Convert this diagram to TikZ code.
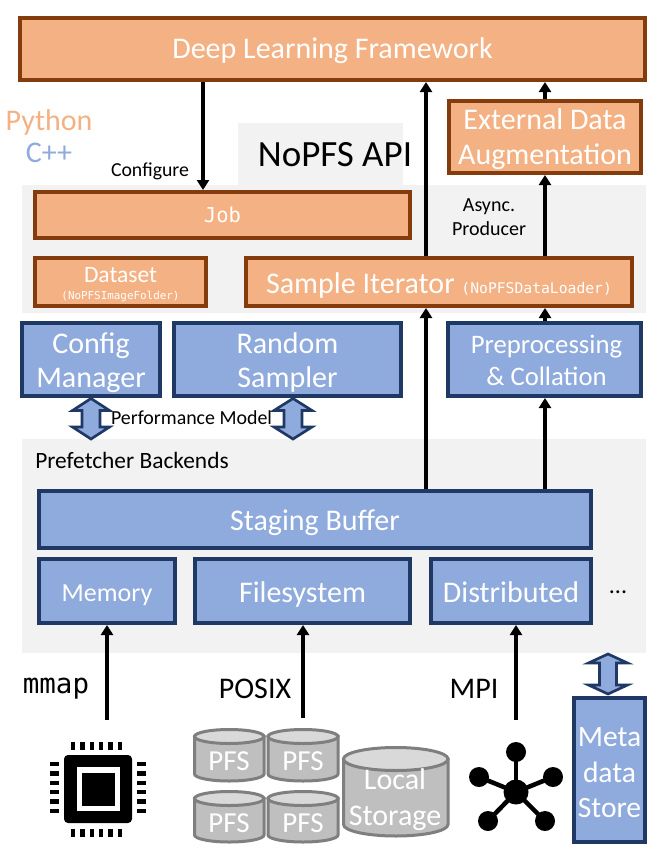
\documentclass[tikz,border=0pt]{standalone}
\usepackage{fontspec}
\setmainfont{Carlito}
\newfontfamily\codefont{DejaVu Sans Mono}
\usetikzlibrary{arrows.meta,calc}
\definecolor{peach}{HTML}{F4B183}
\definecolor{rust}{HTML}{843C0C}
\definecolor{cornflower}{HTML}{8FAADC}
\definecolor{navy}{HTML}{1F3864}
\definecolor{panelgrey}{HTML}{F2F2F2}
\definecolor{cylside}{HTML}{BFBFBF}
\definecolor{cyltop}{HTML}{D9D9D9}
\definecolor{cyledge}{HTML}{7F7F7F}
% size of type and leading, both given in drawing units (0.75pt)
\newcommand{\fs}[2]{\fontsize{\dimexpr #1pt*3/4\relax}{\dimexpr #2pt*3/4\relax}\selectfont}
% invisible struts that lower or raise a box's text by half their argument
\newcommand{\dn}[1]{\rule{0pt}{\dimexpr .7em+#1\relax}}
\newcommand{\up}[1]{\rule[-#1]{0pt}{0pt}}
% a box given by its outer corners: style, name, x1, y1, x2, y2, text
\newcommand{\bx}[7]{\node[#1,minimum width={(#5-#3-4)*0.75pt},minimum height={(#6-#4-4)*0.75pt}] (#2) at ({(#3+#5)/2},{(#4+#6)/2}) {\dn{3pt}#7};}
% a vertical two-headed block arrow: centre x, y1, y2, half width, half shaft, head length
\newcommand{\dblarrow}[6]{\draw[blockarrow] (#1,#2) -- ({#1+#4},{#2+#6}) -- ({#1+#5},{#2+#6}) -- ({#1+#5},{#3-#6}) -- ({#1+#4},{#3-#6}) -- (#1,#3) -- ({#1-#4},{#3-#6}) -- ({#1-#5},{#3-#6}) -- ({#1-#5},{#2+#6}) -- ({#1-#4},{#2+#6}) -- cycle;}
% a storage cylinder: x1, y1, x2, y2, height of the top ellipse
\newcommand{\cyl}[5]{%
  \draw[cyledge,line width=2.25pt,fill=cylside] (#1,{#2+#5/2}) -- (#1,{#4-#5/2}) arc[start angle=180,end angle=0,x radius={(#3-#1)/2},y radius={#5/2}] -- (#3,{#2+#5/2}) -- cycle;
  \draw[cyledge,line width=2.25pt,fill=cyltop] ({(#1+#3)/2},{#2+#5/2}) ellipse[x radius={(#3-#1)/2},y radius={#5/2}];}
\tikzset{
  pic/.style={x=0.75pt,y=-0.75pt},
  base/.style={draw,line width=3pt,inner sep=0pt,align=center,text=white},
  orangebox/.style={base,draw=rust,fill=peach},
  bluebox/.style={base,draw=navy,fill=cornflower},
  panel/.style={fill=panelgrey,draw=none},
  flow/.style={line width=2.7pt,-{Triangle[length=7.5pt,width=9pt]}},
  blockarrow/.style={draw=navy,fill=cornflower,line width=2pt,line join=miter},
  label/.style={inner sep=0pt,align=center},
  cyltext/.style={inner sep=0pt,align=center,text=white},
}
\begin{document}
\begin{tikzpicture}[pic]
\useasboundingbox (0,0) rectangle (664,853);
\fill[white] (0,0) rectangle (664,853);
% grey panels
\fill[panel] (238,123) rectangle (403,185);
\fill[panel] (22,185) rectangle (646,313);
\fill[panel] (22,439) rectangle (646,653);
% Python layer
\bx{orangebox,font={\fs{30}{35}}}{dlf}{18}{16}{647}{82}{Deep Learning Framework}
\bx{orangebox,font={\fs{30}{35}}}{ext}{447}{99}{643}{175}{External Data\\Augmentation}
\bx{orangebox,font={\codefont\fs{20.5}{24}}}{job}{33}{190}{412}{240}{\up{2pt}Job}
\bx{orangebox,font={\fs{23.5}{23}}}{data}{33}{256}{208}{308}{Dataset\\[-4.5pt]{\codefont\fs{10.9}{13}(NoPFSImageFolder)}}
\bx{orangebox,font={\fs{30}{34}}}{iter}{244}{256}{634}{308}{\dn{4.5pt}Sample Iterator {\codefont\fs{14.7}{16}(NoPFSDataLoader)}}
% C++ layer
\bx{bluebox,font={\fs{30}{34}}}{conf}{20}{321}{162}{398}{\dn{4.5pt}Config\\Manager}
\bx{bluebox,font={\fs{30}{34}}}{rand}{172}{321}{403}{398}{\dn{4.5pt}Random\\Sampler}
\bx{bluebox,font={\fs{26.7}{32}}}{prep}{446}{321}{643}{398}{\kern3pt Preprocessing\\\kern3pt\& Collation\up{1.5pt}}
\bx{bluebox,font={\fs{30}{34}}}{stag}{37}{489}{593}{550}{\dn{4.5pt}Staging Buffer}
\bx{bluebox,font={\fs{26}{32}}}{mem}{37}{557}{177}{625}{\dn{4.5pt}Memory}
\bx{bluebox,font={\fs{30}{34}}}{fsys}{193}{557}{412}{625}{\dn{4.5pt}Filesystem}
\bx{bluebox,font={\fs{30}{34}}}{dist}{429}{557}{593}{625}{\up{1.5pt}Distributed}
\bx{bluebox,font={\fs{29.5}{35.5}}}{meta}{572}{696}{647}{844}{Meta\\data\\Store}
% free labels
\node[label,text=peach,font={\fs{30}{34}}] (py) at (49,122) {Python};
\node[label,text=cornflower,font={\fs{30}{34}}] (cpp) at (49,153) {C++};
\node[label,font={\fs{37}{40}}] (api) at (335,155) {NoPFS API};
\node[label,font={\fs{19.8}{24}}] (conflabel) at (150,171) {Configure};
\node[label,font={\fs{20}{24}}] (async) at (489,217) {Async.\\Producer};
\node[label,anchor=west,font={\fs{23.4}{28}}] (backends) at (35,460) {Prefetcher Backends};
\node[label,font={\fs{19.9}{24}}] (perf) at (191.5,418) {Performance Model};
\node[label,font={\fs{24}{24}}] (dots) at (618,592) {...};
\node[label,font={\codefont\fs{27.5}{30}}] (mmap) at (56,689) {mmap};
\node[label,font={\fs{30}{34}}] (posix) at (255,689) {POSIX};
\node[label,font={\fs{30}{34}}] (mpi) at (474,689) {MPI};
% positions of the connectors
\coordinate (xcfg) at (203,0);
\coordinate (xmid) at (426,0);
\coordinate (xaug) at (545,0);
\coordinate (xmem) at (107,720);
\coordinate (xfs) at (303,718);
\coordinate (xmpi) at (516,720);
% connectors
\draw[flow] (dlf.south -| xcfg) -- (job.north -| xcfg);
\draw[flow] (iter.north -| xmid) -- (dlf.south -| xmid);
\draw[flow] (stag.north -| xmid) -- (iter.south -| xmid);
\draw[flow] (ext.north -| xaug) -- (dlf.south -| xaug);
\draw[flow] (iter.north -| xaug) -- (ext.south -| xaug);
\draw[flow] (prep.north -| xaug) -- (iter.south -| xaug);
\draw[flow] (stag.north -| xaug) -- (prep.south -| xaug);
\draw[flow] (xmem) -- (mem.south -| xmem);
\draw[flow] (xfs) -- (fsys.south -| xfs);
\draw[flow] (xmpi) -- (dist.south -| xmpi);
% block arrows
\dblarrow{91}{398.5}{439}{18.5}{9}{12}
\dblarrow{293}{398.5}{439}{19}{9}{12}
\dblarrow{608}{654}{694}{19.5}{8.5}{9}
% processor
\fill[black,rounded corners=3pt] (64,755) rectangle (132,823);
\fill[white] (77,767) rectangle (120,811);
\fill[black] (82,773) rectangle (115,806);
\foreach \i in {0,...,5}{
  \fill[black] ({71+\i*9.3},742) rectangle +(4.4,8);
  \fill[black] ({71+\i*9.3},829) rectangle +(4.4,8);
  \fill[black] (50,{762+\i*9.3}) rectangle +(9,4.4);
  \fill[black] (137,{762+\i*9.3}) rectangle +(9,4.4);
}
% parallel file systems and local storage
\cyl{194.5}{729.5}{264}{781}{14}
\cyl{268}{729.5}{338}{781}{14}
\cyl{194.5}{791.5}{264}{842}{14}
\cyl{268}{791.5}{338}{842}{14}
\cyl{343.5}{747.5}{448}{836}{23}
\node[cyltext,font={\fs{29}{34}}] (pfsa) at (229,761) {PFS};
\node[cyltext,font={\fs{29}{34}}] (pfsb) at (303,761) {PFS};
\node[cyltext,font={\fs{29}{34}}] (pfsc) at (229,823) {PFS};
\node[cyltext,font={\fs{29}{34}}] (pfsd) at (303,823) {PFS};
\node[cyltext,font={\fs{30}{36}}] (local) at (395,800) {Local\\Storage};
% interconnect
\foreach \px/\py in {516/752,479/777,553/777,488/821,545/821}{
  \draw[line width=3.4pt] (516,792) -- (\px,\py);
  \fill (\px,\py) circle[radius=10];
}
\fill (516,792) circle[radius=12.5];
\end{tikzpicture}
\end{document}
